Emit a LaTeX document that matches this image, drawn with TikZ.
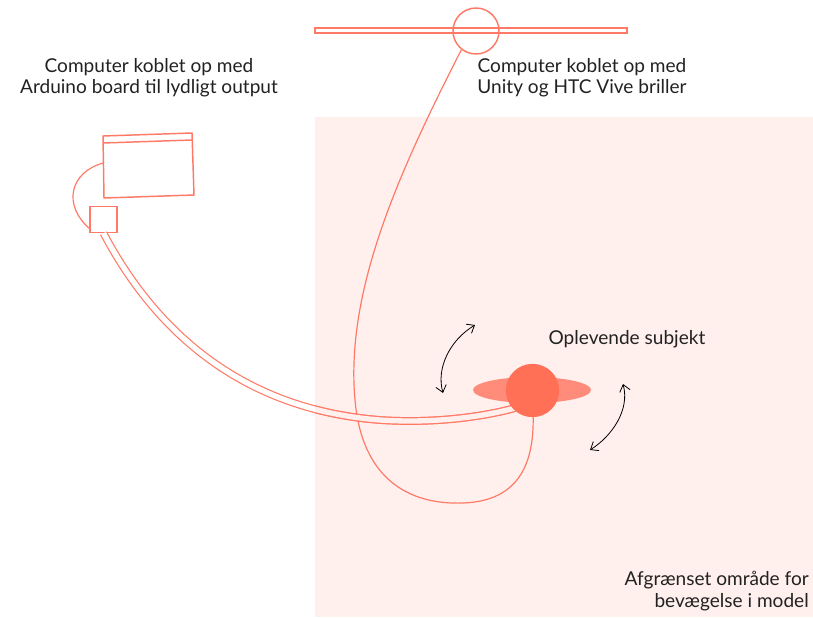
\documentclass[tikz,border=0pt]{standalone}
\usepackage{fontspec}
\setmainfont{Lato}
\usetikzlibrary{arrows.meta,shapes.geometric}
\definecolor{coral}{HTML}{FF7A66}
\definecolor{sphere}{HTML}{FF7057}
\definecolor{disc}{HTML}{FF8C7A}
\definecolor{bgpink}{HTML}{FFF0EE}
\definecolor{txt}{HTML}{222222}
\tikzset{
  line/.style={draw=coral, line width=1.1pt},
  cable/.style={draw=coral, line width=0.9pt},
  label/.style={text=txt, font=\fontsize{14.3}{15.9}\selectfont, align=center, inner sep=0pt},
  turn/.style={draw=black, line width=0.6pt, {Straight Barb[length=5pt,width=8pt]}-{Straight Barb[length=5pt,width=8pt]}},
}
\begin{document}
\begin{tikzpicture}[x=0.75pt,y=-0.75pt]
\useasboundingbox (0,0) rectangle (813,617);
% movement area
\fill[bgpink] (315,117) rectangle (813,617);
% HTC Vive base bar and headset
\draw[line, fill=white] (315,28) rectangle (627,33);
\node[circle, line, minimum size=34.5pt, inner sep=0pt] (hmd) at (476,31) {};
% computer (arduino)
\draw[line] (103,136) -- (192,133) -- (194,195) -- (104,198) -- cycle;
\draw[line] (103,143) -- (192,140);
\coordinate (compL) at (103.3,163);
\node[line, draw, minimum width=20.25pt, minimum height=19.5pt, inner sep=0pt] (ard) at (103.5,219.5) {};
\coordinate (ardL) at (90,229);
\draw[cable] (compL) .. controls (70,172) and (62,205) .. (ardL);
% subject
\coordinate (subjBL) at (515,408);
\coordinate (subjB) at (533,412);
% top cable
\draw[cable] (hmd.-128) .. controls (400,170) and (345,290) .. (355,400)
  .. controls (362,480) and (410,505) .. (463,503)
  .. controls (520,501) and (535,462) .. (subjB);
% double cable from arduino box
\draw[draw=coral, line width=0.9pt, double=white, double distance=4pt]
  (ard.south) .. controls (160,340) and (250,410) .. (380,420)
  .. controls (440,424) and (490,415) .. (subjBL);
\begin{scope}
\clip (315,117) rectangle (813,617);
\draw[draw=coral, line width=0.9pt, double=bgpink, double distance=4pt]
  (ard.south) .. controls (160,340) and (250,410) .. (380,420)
  .. controls (440,424) and (490,415) .. (subjBL);
\end{scope}
\node[ellipse, fill=disc, minimum width=88.5pt, minimum height=19.5pt, inner sep=0pt] (disc) at (532,390) {};
\node[circle, fill=sphere, minimum size=40pt, inner sep=0pt] (head) at (532.5,390.5) {};
% rotation arrows
\coordinate (a1s) at (475,325);
\coordinate (a1e) at (443,393);
\coordinate (a2s) at (623,384);
\coordinate (a2e) at (590,450);
\draw[turn] (a1s) .. controls (450,340) and (436,368) .. (a1e);
\draw[turn] (a2s) .. controls (630,410) and (612,436) .. (a2e);
% labels
\node[label] (l1) at (149,78) {Computer koblet op med\\Arduino board til lydligt output};
\node[label] (l2) at (582,78) {Computer koblet op med\\Unity og HTC Vive briller};
\node[label] (l3) at (627,339) {Oplevende subjekt};
\node[label, align=right, anchor=east] (l4) at (809,591) {Afgrænset område for\\bevægelse i model};
\end{tikzpicture}
\end{document}
